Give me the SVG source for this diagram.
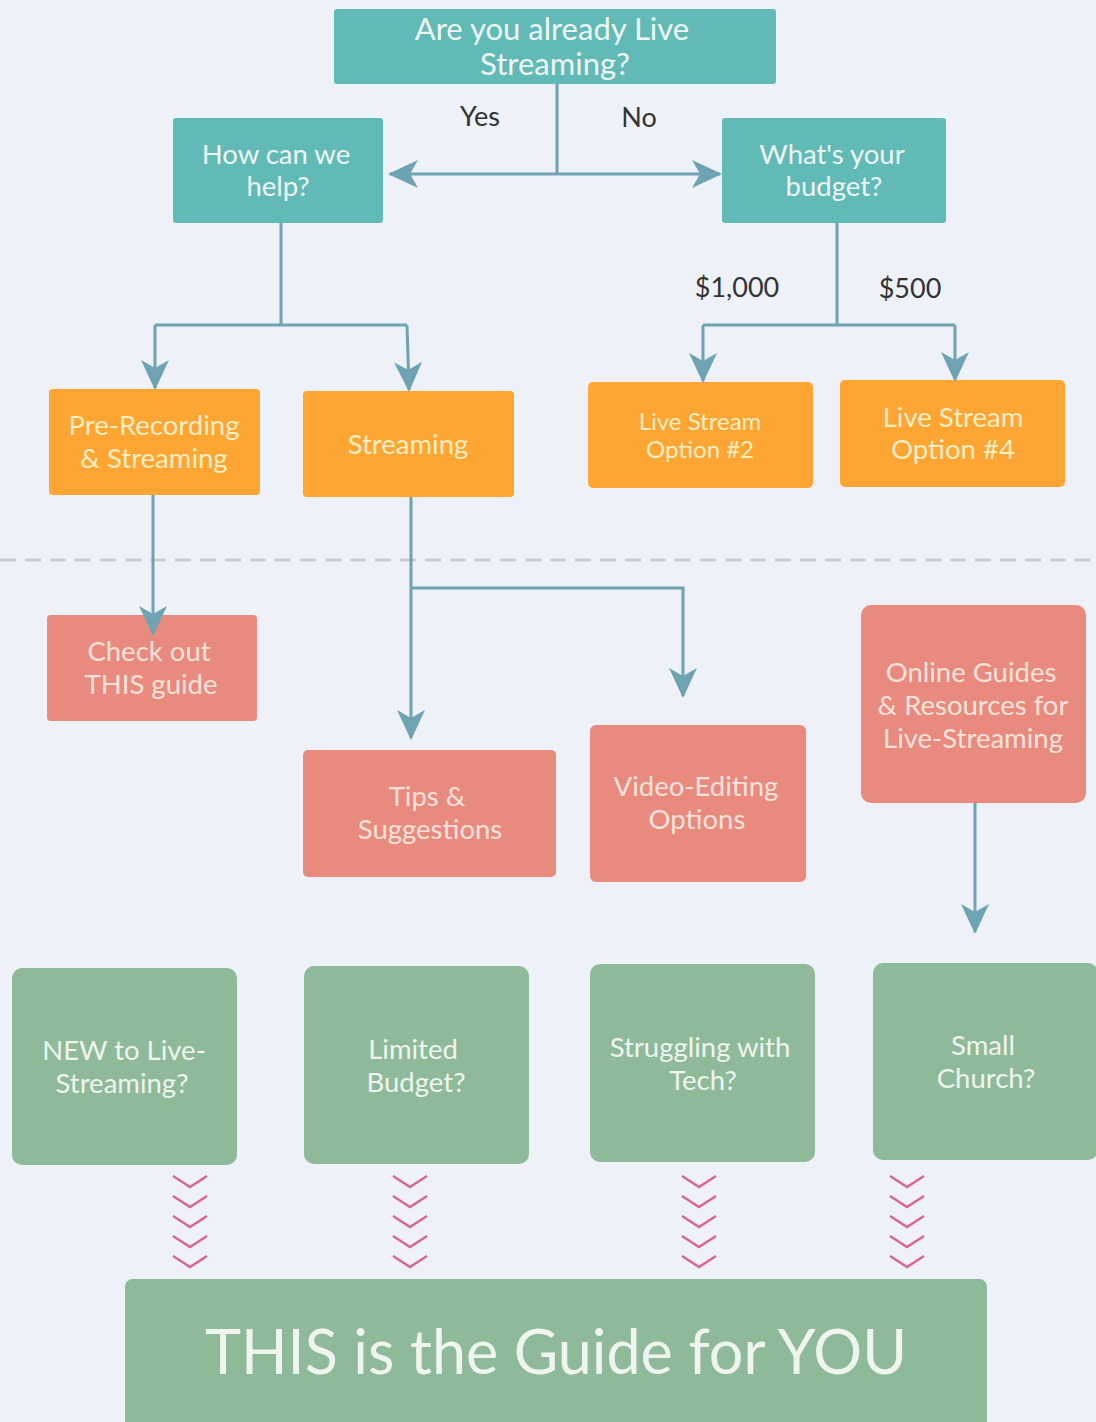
<svg xmlns="http://www.w3.org/2000/svg" xmlns:xlink="http://www.w3.org/1999/xlink" width="1096" height="1422" viewBox="0 0 1096 1422">
<style>
.teal{fill:#62BAB7}
.orange{fill:#FFA533}
.salmon{fill:#E98A7E}
.green{fill:#8EBA9A}
text{font-family:Lato,"Open Sans","Liberation Sans",sans-serif;text-anchor:middle}
.t{font-size:27.5px;fill:#EEF6F3}
.to{font-size:27.5px;fill:#FCEFC4}
.ts{font-size:27.5px;fill:#FBE3DC}
.tg{font-size:27.5px;fill:#EFF5EE}
.lbl{font-size:27px;fill:#333}
.conn{fill:none;stroke:#6DA3B3;stroke-width:3}
.chev{fill:none;stroke:#D9668E;stroke-width:2.5}
</style>
<defs>
<marker id="arr" viewBox="0 0 30 30" refX="28" refY="15" markerWidth="30" markerHeight="30" markerUnits="userSpaceOnUse" orient="auto-start-reverse">
<path d="M0,1 L30,15 L0,29 L8,15 Z" fill="#6DA3B3"/>
</marker>
<g id="chevs">
<polyline class="chev" points="-17,0 0,11 17,0"/>
<polyline class="chev" points="-17,20 0,31 17,20"/>
<polyline class="chev" points="-17,40 0,51 17,40"/>
<polyline class="chev" points="-17,60 0,71 17,60"/>
<polyline class="chev" points="-17,80 0,91 17,80"/>
</g>
</defs>
<rect width="1096" height="1422" fill="#EEF1F8"/>
<line x1="0" y1="560" x2="1096" y2="560" stroke="#C9CDD4" stroke-width="3" stroke-dasharray="16 9"/>

<g id="n-live"><rect class="teal" x="334" y="9" width="442" height="75" rx="3"/>
<text class="t" x="552" y="40" style="font-size:31px">Are you already Live</text><text class="t" x="555" y="75" style="font-size:31px">Streaming?</text></g>
<g id="n-help"><rect class="teal" x="173" y="118" width="210" height="105" rx="3"/>
<text class="t" x="276" y="164">How can we</text><text class="t" x="278" y="196">help?</text></g>
<g id="n-budget"><rect class="teal" x="722" y="118" width="224" height="105" rx="3"/>
<text class="t" x="832" y="164">What's your</text><text class="t" x="834" y="196">budget?</text></g>
<g id="n-prerec"><rect class="orange" x="49" y="389" width="211" height="106" rx="4"/>
<text class="to" x="154" y="435">Pre-Recording</text><text class="to" x="154" y="468">&amp; Streaming</text></g>
<g id="n-stream"><rect class="orange" x="303" y="391" width="211" height="106" rx="4"/>
<text class="to" x="408" y="454">Streaming</text></g>
<g id="n-opt2"><rect class="orange" x="588" y="382" width="225" height="106" rx="5"/>
<text class="to" x="700" y="430" style="font-size:24px">Live Stream</text><text class="to" x="700" y="458" style="font-size:24px">Option #2</text></g>
<g id="n-opt4"><rect class="orange" x="840" y="380" width="225" height="107" rx="5"/>
<text class="to" x="953" y="427">Live Stream</text><text class="to" x="953" y="459">Option #4</text></g>
<g id="n-check"><rect class="salmon" x="47" y="615" width="210" height="106" rx="4"/>
<text class="ts" x="149" y="661">Check out</text><text class="ts" x="151" y="694">THIS guide</text></g>
<g id="n-tips"><rect class="salmon" x="303" y="750" width="253" height="127" rx="5"/>
<text class="ts" x="427" y="806">Tips &amp;</text><text class="ts" x="430" y="839">Suggestions</text></g>
<g id="n-video"><rect class="salmon" x="590" y="725" width="216" height="157" rx="6"/>
<text class="ts" x="696" y="796">Video-Editing</text><text class="ts" x="697" y="829">Options</text></g>
<g id="n-online"><rect class="salmon" x="861" y="605" width="225" height="198" rx="10"/>
<text class="ts" x="971" y="682">Online Guides</text><text class="ts" x="973" y="715">&amp; Resources for</text><text class="ts" x="973" y="748">Live-Streaming</text></g>
<g id="n-new"><rect class="green" x="12" y="968" width="225" height="197" rx="10"/>
<text class="tg" x="124" y="1060">NEW to Live-</text><text class="tg" x="122" y="1093">Streaming?</text></g>
<g id="n-limited"><rect class="green" x="304" y="966" width="225" height="198" rx="10"/>
<text class="tg" x="413" y="1059">Limited</text><text class="tg" x="416" y="1092">Budget?</text></g>
<g id="n-tech"><rect class="green" x="590" y="964" width="225" height="198" rx="10"/>
<text class="tg" x="700" y="1057">Struggling with</text><text class="tg" x="703" y="1090">Tech?</text></g>
<g id="n-church"><rect class="green" x="873" y="963" width="225" height="197" rx="10"/>
<text class="tg" x="983" y="1055">Small</text><text class="tg" x="986" y="1088">Church?</text></g>
<g id="n-guide"><rect class="green" x="125" y="1279" width="862" height="160" rx="8"/>
<text class="tg" x="556" y="1374" style="font-size:61px">THIS is the Guide for YOU</text></g>

<g id="connectors">
<polyline class="conn" points="557,84 557,174"/>
<line class="conn" x1="390" y1="174" x2="720" y2="174" marker-start="url(#arr)" marker-end="url(#arr)"/>
<text class="lbl" x="480" y="126">Yes</text>
<text class="lbl" x="639" y="127">No</text>
<polyline class="conn" points="281,223 281,325"/>
<polyline class="conn" points="155,325 407,325"/>
<polyline class="conn" points="155,325 155,388" marker-end="url(#arr)"/>
<polyline class="conn" points="407,325 409,390" marker-end="url(#arr)"/>
<polyline class="conn" points="837,223 837,325"/>
<polyline class="conn" points="703,325 955,325"/>
<polyline class="conn" points="703,325 703,381" marker-end="url(#arr)"/>
<polyline class="conn" points="955,325 955,380" marker-end="url(#arr)"/>
<text class="lbl" x="737" y="297">$1,000</text>
<text class="lbl" x="910" y="298">$500</text>
<polyline class="conn" points="153,495 153,634" marker-end="url(#arr)"/>
<polyline class="conn" points="411,497 411,738" marker-end="url(#arr)"/>
<polyline class="conn" points="411,588 683,588 683,696" marker-end="url(#arr)"/>
<polyline class="conn" points="975,803 975,932" marker-end="url(#arr)"/>
<use xlink:href="#chevs" x="190" y="1176"/>
<use xlink:href="#chevs" x="410" y="1176"/>
<use xlink:href="#chevs" x="699" y="1176"/>
<use xlink:href="#chevs" x="907" y="1176"/>
</g>
</svg>
